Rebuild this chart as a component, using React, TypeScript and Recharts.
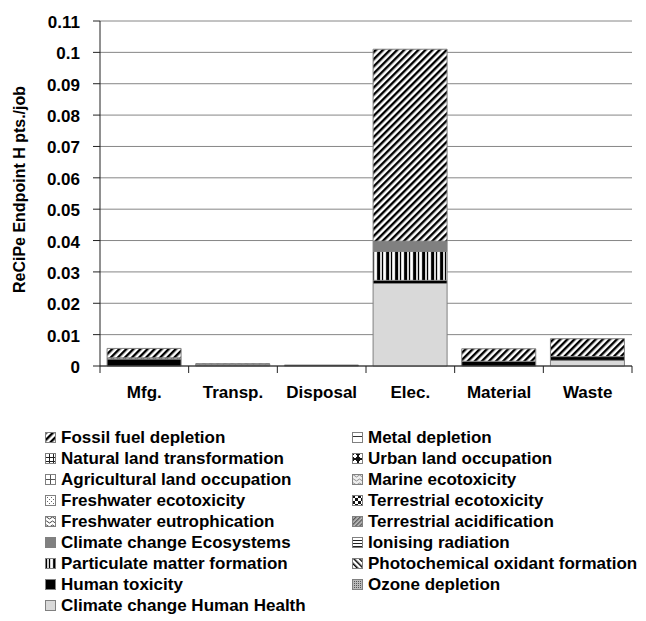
import React from 'react';
import { BarChart, Bar, XAxis, YAxis, CartesianGrid, Legend } from 'recharts';

const categories = ['Mfg.', 'Transp.', 'Disposal', 'Elec.', 'Material', 'Waste'];

// stacked bottom -> top
const climateChangeHumanHealth = [0, 0, 0, 0.0263, 0, 0.0018];
const ozoneDepletion = [0, 0, 0, 0, 0, 0];
const humanToxicity = [0.0022, 0.0002, 0.0003, 0.001, 0.0015, 0.0012];
const photochemicalOxidant = [0, 0, 0, 0, 0, 0];
const particulateMatter = [0, 0, 0, 0.0093, 0, 0];
const ionisingRadiation = [0, 0, 0, 0, 0, 0];
const climateChangeEcosystems = [0, 0, 0, 0.0032, 0, 0];
const terrestrialAcidification = [0, 0, 0, 0, 0, 0];
const freshwaterEutrophication = [0.0004, 0.0004, 0, 0, 0, 0];
const terrestrialEcotoxicity = [0, 0, 0, 0, 0, 0];
const freshwaterEcotoxicity = [0, 0, 0, 0, 0, 0];
const marineEcotoxicity = [0, 0, 0, 0, 0, 0];
const agriculturalLand = [0, 0, 0, 0, 0, 0];
const urbanLand = [0, 0, 0, 0, 0, 0];
const naturalLand = [0, 0, 0, 0, 0, 0];
const metalDepletion = [0, 0, 0, 0, 0, 0];
const fossilFuelDepletion = [0.003, 0.0001, 0, 0.0612, 0.004, 0.0057];

const yTicks = [0, 0.01, 0.02, 0.03, 0.04, 0.05, 0.06, 0.07, 0.08, 0.09, 0.1, 0.11];

const series: [string, number[], string][] = [
  ['Climate change Human Health', climateChangeHumanHealth, '#d9d9d9'],
  ['Ozone depletion', ozoneDepletion, 'url(#pOzone)'],
  ['Human toxicity', humanToxicity, '#000000'],
  ['Photochemical oxidant formation', photochemicalOxidant, 'url(#pPhoto)'],
  ['Particulate matter formation', particulateMatter, 'url(#pPM)'],
  ['Ionising radiation', ionisingRadiation, 'url(#pIonising)'],
  ['Climate change Ecosystems', climateChangeEcosystems, '#808080'],
  ['Terrestrial acidification', terrestrialAcidification, 'url(#pTerrAcid)'],
  ['Freshwater eutrophication', freshwaterEutrophication, 'url(#pFwEutro)'],
  ['Terrestrial ecotoxicity', terrestrialEcotoxicity, 'url(#pTerrEcotox)'],
  ['Freshwater ecotoxicity', freshwaterEcotoxicity, 'url(#pFwEcotox)'],
  ['Marine ecotoxicity', marineEcotoxicity, 'url(#pMarine)'],
  ['Agricultural land occupation', agriculturalLand, 'url(#pAgri)'],
  ['Urban land occupation', urbanLand, 'url(#pUrban)'],
  ['Natural land transformation', naturalLand, 'url(#pNatural)'],
  ['Metal depletion', metalDepletion, 'url(#pMetal)'],
  ['Fossil fuel depletion', fossilFuelDepletion, 'url(#pFossil)'],
];

const data = categories.map((category, i) => {
  const row: Record<string, string | number> = { category };
  series.forEach(([name, values]) => {
    row[name] = values[i];
  });
  return row;
});

const FONT = '"Liberation Sans", Arial, sans-serif';
const PLOT_LEFT = 100;
const PLOT_RIGHT = 632;
const PLOT_BOTTOM = 366;
const BAND = (PLOT_RIGHT - PLOT_LEFT) / categories.length;

const YTick = ({ x, y, payload }: any) => (
  <text x={x} y={y + 7} textAnchor="end" fontFamily={FONT} fontSize={17} fontWeight="bold" fill="#000">
    {String(payload.value)}
  </text>
);

const XTick = ({ x, payload, index }: any) => (
  <g>
    <line x1={x - BAND / 2} y1={PLOT_BOTTOM} x2={x - BAND / 2} y2={PLOT_BOTTOM + 7} stroke="#222" />
    {index === categories.length - 1 && (
      <line x1={x + BAND / 2} y1={PLOT_BOTTOM} x2={x + BAND / 2} y2={PLOT_BOTTOM + 7} stroke="#222" />
    )}
    <text x={x} y={PLOT_BOTTOM + 32} textAnchor="middle" fontFamily={FONT} fontSize={17} fontWeight="bold" fill="#000">
      {payload.value}
    </text>
  </g>
);

const LegendBox = () => {
  const items = series.map((s) => s).reverse();
  return (
    <div style={{ position: 'relative', width: 646, height: 215, fontFamily: FONT }}>
      {items.map(([name, , fill], i) => {
        const row = Math.floor(i / 2);
        const col = i % 2;
        return (
          <div
            key={name}
            style={{
              position: 'absolute',
              left: col === 0 ? 45 : 352,
              top: 21 + row * 21,
              height: 21,
              display: 'flex',
              alignItems: 'center',
              whiteSpace: 'nowrap',
              fontSize: 17,
              fontWeight: 'bold',
              color: '#000',
            }}
          >
            <svg width={11} height={11} style={{ marginRight: 5 }}>
              <rect x={0.5} y={0.5} width={10} height={10} fill={fill} stroke="#808080" />
            </svg>
            {name}
          </div>
        );
      })}
    </div>
  );
};

export default function App() {
  return (
    <div style={{ position: 'absolute', left: 0, top: 0, width: 646, height: 621, background: '#fff' }}>
      <BarChart
        width={646}
        height={621}
        data={data}
        margin={{ top: 21, right: 14, bottom: 0, left: 0 }}
        barCategoryGap="8%"
      >
        <defs>
          <pattern id="pFossil" width={5} height={5} patternUnits="userSpaceOnUse" patternTransform="rotate(45)">
            <rect width={5} height={5} fill="#fff" />
            <rect width={2.4} height={5} fill="#000" />
          </pattern>
          <pattern id="pMetal" width={8} height={8} patternUnits="userSpaceOnUse">
            <rect width={8} height={8} fill="#fff" />
            <rect y={4} width={8} height={1} fill="#333" />
          </pattern>
          <pattern id="pNatural" width={4} height={4} patternUnits="userSpaceOnUse">
            <rect width={4} height={4} fill="#fff" />
            <rect width={4} height={1} fill="#222" />
            <rect width={1} height={4} fill="#222" />
          </pattern>
          <pattern id="pAgri" width={5} height={5} patternUnits="userSpaceOnUse">
            <rect width={5} height={5} fill="#fff" />
            <rect width={5} height={1} fill="#555" />
            <rect width={1} height={5} fill="#555" />
          </pattern>
          <pattern id="pUrban" width={6} height={6} patternUnits="userSpaceOnUse">
            <rect width={6} height={6} fill="#111" />
            <rect x={2} y={1} width={2} height={4} fill="#fff" />
            <rect x={1} y={2} width={4} height={2} fill="#fff" />
          </pattern>
          <pattern id="pMarine" width={6} height={4} patternUnits="userSpaceOnUse">
            <rect width={6} height={4} fill="#eee" />
            <path d="M0 2 Q1.5 0 3 2 T6 2" stroke="#777" fill="none" strokeWidth={0.8} />
          </pattern>
          <pattern id="pFwEcotox" width={4} height={4} patternUnits="userSpaceOnUse">
            <rect width={4} height={4} fill="#fff" />
            <rect width={1} height={1} fill="#666" />
            <rect x={2} y={2} width={1} height={1} fill="#666" />
          </pattern>
          <pattern id="pTerrEcotox" width={6} height={6} patternUnits="userSpaceOnUse">
            <rect width={6} height={6} fill="#fff" />
            <rect width={3} height={3} fill="#111" />
            <rect x={3} y={3} width={3} height={3} fill="#111" />
          </pattern>
          <pattern id="pFwEutro" width={6} height={4} patternUnits="userSpaceOnUse">
            <rect width={6} height={4} fill="#fff" />
            <path d="M0 2 Q1.5 0 3 2 T6 2" stroke="#444" fill="none" strokeWidth={1} />
          </pattern>
          <pattern id="pTerrAcid" width={3} height={3} patternUnits="userSpaceOnUse" patternTransform="rotate(45)">
            <rect width={3} height={3} fill="#bbb" />
            <rect width={1.3} height={3} fill="#555" />
          </pattern>
          <pattern id="pIonising" width={3} height={3} patternUnits="userSpaceOnUse">
            <rect width={3} height={3} fill="#fff" />
            <rect width={3} height={1} fill="#222" />
          </pattern>
          <pattern id="pPM" width={9} height={9} patternUnits="userSpaceOnUse">
            <rect width={9} height={9} fill="#d4d4d4" />
            <rect x={0} width={2} height={9} fill="#000" />
            <rect x={4} width={1} height={9} fill="#000" />
            <rect x={6} width={1.5} height={9} fill="#fff" />
            <rect x={8} width={1} height={9} fill="#222" />
          </pattern>
          <pattern id="pPhoto" width={4} height={4} patternUnits="userSpaceOnUse" patternTransform="rotate(-45)">
            <rect width={4} height={4} fill="#fff" />
            <rect width={1.5} height={4} fill="#000" />
          </pattern>
          <pattern id="pOzone" width={2} height={2} patternUnits="userSpaceOnUse">
            <rect width={2} height={2} fill="#bbb" />
            <rect width={1} height={1} fill="#555" />
          </pattern>
        </defs>
        <CartesianGrid vertical={false} stroke="#868686" />
        <XAxis
          dataKey="category"
          height={40}
          tickLine={false}
          axisLine={{ stroke: '#222' }}
          tick={<XTick />}
          interval={0}
        />
        <YAxis
          width={100}
          domain={[0, 0.11]}
          ticks={yTicks}
          tickSize={7}
          tickMargin={13}
          tickLine={{ stroke: '#222' }}
          axisLine={{ stroke: '#222' }}
          tick={<YTick />}
          label={({ viewBox }: any) => (
            <text
              x={25}
              y={viewBox.y + viewBox.height / 2 - 4}
              transform={`rotate(-90, 25, ${viewBox.y + viewBox.height / 2 - 4})`}
              textAnchor="middle"
              fontFamily={FONT}
              fontSize={16}
              fontWeight="bold"
              fill="#000"
            >
              ReCiPe Endpoint H pts./job
            </text>
          )}
        />
        <Legend verticalAlign="bottom" wrapperStyle={{ left: 0, width: 646 }} content={<LegendBox />} />
        {series.map(([name, , fill]) => (
          <Bar
            key={name}
            dataKey={name}
            name={name}
            stackId="a"
            fill={fill}
            stroke="#808080"
            strokeWidth={1}
            isAnimationActive={false}
          />
        ))}
      </BarChart>
    </div>
  );
}
